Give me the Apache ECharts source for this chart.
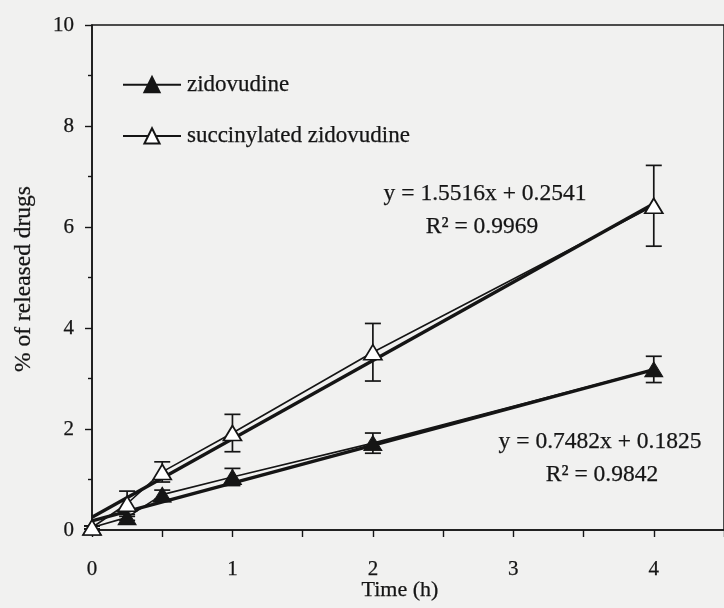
<!DOCTYPE html>
<html>
<head>
<meta charset="utf-8">
<script src="https://cdn.jsdelivr.net/npm/echarts@6/dist/echarts.min.js"></script>
<style>
  html, body { margin: 0; padding: 0; background: #f1f1f0; }
  #chart { width: 724px; height: 608px; }
</style>
</head>
<body>
<div id="chart"></div>
<script>
// Release time points (h)
const timeHours = [0, 0.25, 0.5, 1, 2, 4];

// Mean % released and standard deviations
const zidovudine = [0.05, 0.25, 0.7, 1.05, 1.72, 3.18];
const zidovudineSd = [0.03, 0.06, 0.09, 0.17, 0.2, 0.26];
const succinylated = [0.05, 0.52, 1.15, 1.92, 3.52, 6.42];
const succinylatedSd = [0.03, 0.25, 0.2, 0.37, 0.57, 0.8];

// Linear fits: [slope, intercept, R²]
const zidovudineFit = [0.7482, 0.1825, 0.9842];
const succinylatedFit = [1.5516, 0.2541, 0.9969];

const seriesNames = ['zidovudine', 'succinylated zidovudine'];

const INK = '#151515';
const SERIF = '"Liberation Serif", "DejaVu Serif", serif';

function pairs(xs, ys) {
  return xs.map((x, i) => [x, ys[i]]);
}

function fitLine(fit) {
  const x0 = timeHours[0];
  const x1 = timeHours[timeHours.length - 1];
  return [[x0, fit[0] * x0 + fit[1]], [x1, fit[0] * x1 + fit[1]]];
}

function errorBars(name, values, sds) {
  return {
    type: 'custom',
    name: name + ' SD',
    silent: true,
    z: 2,
    data: timeHours.map((t, i) => [t, values[i] - sds[i], values[i] + sds[i]]),
    encode: { x: 0, y: [1, 2] },
    renderItem(params, api) {
      const lo = api.coord([api.value(0), api.value(1)]);
      const hi = api.coord([api.value(0), api.value(2)]);
      const half = 8;
      const style = { stroke: INK, lineWidth: 1.7 };
      return {
        type: 'group',
        children: [
          { type: 'line', shape: { x1: hi[0], y1: hi[1], x2: lo[0], y2: lo[1] }, style },
          { type: 'line', shape: { x1: hi[0] - half, y1: hi[1], x2: hi[0] + half, y2: hi[1] }, style },
          { type: 'line', shape: { x1: lo[0] - half, y1: lo[1], x2: lo[0] + half, y2: lo[1] }, style }
        ]
      };
    }
  };
}

function equationText(fit) {
  return {
    eq: 'y = ' + fit[0].toFixed(4) + 'x + ' + fit[1].toFixed(4),
    r2: 'R² = ' + fit[2].toFixed(4)
  };
}

const eqZ = equationText(zidovudineFit);
const eqS = equationText(succinylatedFit);

const chart = echarts.init(document.getElementById('chart'), null, { renderer: 'canvas' });

// slightly heavy serif text, like a printed figure
const ink = { fontFamily: SERIF, fill: INK, stroke: INK, lineWidth: 0.25 };
const inkLabel = { fontFamily: SERIF, color: INK, textBorderColor: INK, textBorderWidth: 0.25 };

function label(text, x, y, size, rotation) {
  return {
    type: 'text', x, y, rotation: rotation || 0,
    style: Object.assign({ text, fontSize: size, align: 'center', verticalAlign: 'middle' }, ink)
  };
}

chart.setOption({
  backgroundColor: '#f1f1f0',
  animation: false,
  textStyle: { fontFamily: SERIF, color: INK },
  grid: {
    left: 92, top: 25, right: -9, bottom: 78,
    show: true, borderColor: INK, borderWidth: 1.5, backgroundColor: 'transparent'
  },
  legend: {
    orient: 'vertical',
    left: 117, top: 68,
    itemWidth: 58, itemHeight: 19, itemGap: 28,
    data: seriesNames,
    textStyle: Object.assign({ fontSize: 23, padding: [0, 0, 0, 1] }, inkLabel)
  },
  xAxis: {
    type: 'value', min: 0, max: 4.5, interval: 1,
    axisLine: { show: true, lineStyle: { color: INK, width: 1.5 } },
    axisTick: { show: true, length: 7, lineStyle: { color: INK, width: 1.4 } },
    minorTick: { show: true, splitNumber: 2, length: 7, lineStyle: { color: INK, width: 1.4 } },
    splitLine: { show: false },
    axisLabel: Object.assign({ fontSize: 21, margin: 29, showMaxLabel: false }, inkLabel)
  },
  yAxis: {
    type: 'value', min: 0, max: 10, interval: 2,
    axisLine: { show: true, lineStyle: { color: INK, width: 1.5 } },
    axisTick: { show: true, length: 7, lineStyle: { color: INK, width: 1.4 } },
    minorTick: { show: true, splitNumber: 2, length: 4, lineStyle: { color: INK, width: 1.4 } },
    splitLine: { show: false },
    axisLabel: Object.assign({ fontSize: 21, margin: 18 }, inkLabel)
  },
  graphic: [
    label('Time (h)', 400, 590, 22),
    label('% of released drugs', 24, 279, 23.5, Math.PI / 2),
    label(eqS.eq, 485, 194, 23.5),
    label(eqS.r2, 482, 227, 23.5),
    label(eqZ.eq, 600, 442, 23.5),
    label(eqZ.r2, 602, 475, 23.5)
  ],
  series: [
    // fitted trend lines
    {
      type: 'line', name: 'zidovudine fit', data: fitLine(zidovudineFit),
      symbol: 'none', silent: true, z: 1,
      lineStyle: { color: INK, width: 3.4 }
    },
    {
      type: 'line', name: 'succinylated fit', data: fitLine(succinylatedFit),
      symbol: 'none', silent: true, z: 1,
      lineStyle: { color: INK, width: 3.4 }
    },
    errorBars('zidovudine', zidovudine, zidovudineSd),
    errorBars('succinylated zidovudine', succinylated, succinylatedSd),
    // measured release profiles
    {
      type: 'line', name: seriesNames[0], data: pairs(timeHours, zidovudine),
      symbol: 'triangle', symbolSize: [18, 15], z: 3,
      lineStyle: { color: INK, width: 1.6 },
      itemStyle: { color: INK, borderColor: INK, borderWidth: 1 }
    },
    {
      type: 'line', name: seriesNames[1], data: pairs(timeHours, succinylated),
      symbol: 'triangle', symbolSize: [18, 15], z: 4,
      lineStyle: { color: INK, width: 1.6 },
      itemStyle: { color: '#ffffff', borderColor: INK, borderWidth: 1.7 }
    }
  ]
});
</script>
</body>
</html>
